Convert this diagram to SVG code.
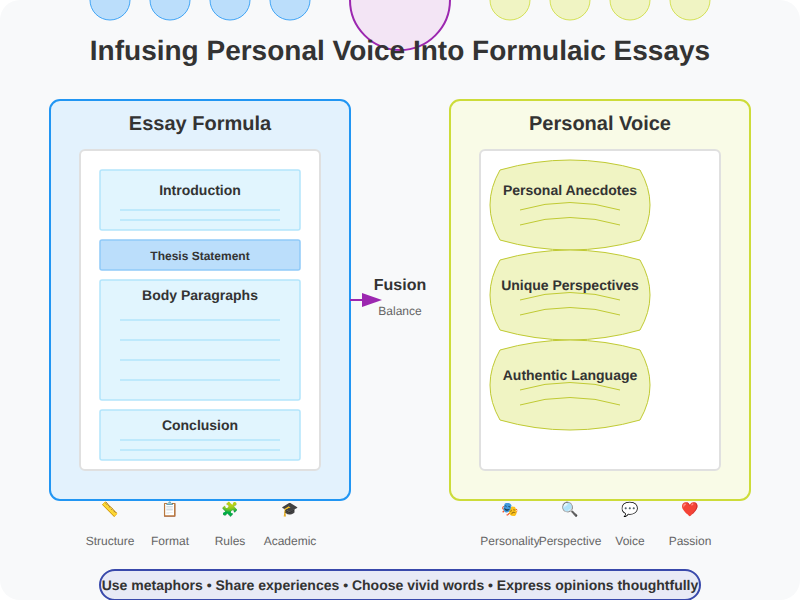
<svg xmlns="http://www.w3.org/2000/svg" width="800" height="600" viewBox="0 0 800 600">
<style>
text{font-family:"Liberation Sans",Arial,sans-serif;text-anchor:middle;fill:#333;text-rendering:geometricPrecision}
.b{font-weight:bold}
.sec{fill:#e1f5fe;stroke:#b3e5fc;stroke-width:1.5}
.ln{stroke:#b3e5fc;stroke-width:1.5;fill:none}
.inner{fill:#fff;stroke:#e0e0e0;stroke-width:2}
.blob{fill:#f0f4c3;stroke:#c0ca33;stroke-width:1}
.wave{fill:none;stroke:#c0ca33;stroke-width:1}
.cb{fill:#bbdefb;stroke:#42a5f5;stroke-width:1}
.cy{fill:#f0f4c3;stroke:#d4e157;stroke-width:1}
.lab{font-size:12px;fill:#666}
.ico{font-size:14px}
</style>
<defs>
<marker id="arr" markerWidth="10" markerHeight="7" refX="0" refY="3.5" orient="auto"><polygon points="0 0,10 3.5,0 7" fill="#9c27b0"/></marker>
</defs>
<rect width="800" height="600" fill="#fff"/>
<rect id="background" width="800" height="600" rx="20" fill="#f8f9fa"/>
<g id="top-circles">
<circle class="cb" cx="110" cy="0" r="20"/><circle class="cb" cx="170" cy="0" r="20"/><circle class="cb" cx="230" cy="0" r="20"/><circle class="cb" cx="290" cy="0" r="20"/>
<circle cx="400" cy="0" r="50" fill="#f3e5f5" stroke="#9c27b0" stroke-width="2"/>
<circle class="cy" cx="510" cy="0" r="20"/><circle class="cy" cx="570" cy="0" r="20"/><circle class="cy" cx="630" cy="0" r="20"/><circle class="cy" cx="690" cy="0" r="20"/>
</g>
<text id="title" class="b" x="400" y="60" font-size="28">Infusing Personal Voice Into Formulaic Essays</text>
<g id="essay-formula">
<rect x="50" y="100" width="300" height="400" rx="10" fill="#e3f2fd" stroke="#2196f3" stroke-width="2"/>
<text class="b" x="200" y="130" font-size="20">Essay Formula</text>
<rect class="inner" x="80" y="150" width="240" height="320" rx="5"/>
</g>
<g id="introduction">
<rect class="sec" x="100" y="170" width="200" height="60" rx="2"/>
<text class="b" x="200" y="195" font-size="14">Introduction</text>
<path class="ln" d="M120 210H280M120 220H280"/>
</g>
<g id="thesis-statement">
<rect x="100" y="240" width="200" height="30" rx="2" fill="#bbdefb" stroke="#90caf9" stroke-width="1.5"/>
<text class="b" x="200" y="260" font-size="12">Thesis Statement</text>
</g>
<g id="body-paragraphs">
<rect class="sec" x="100" y="280" width="200" height="120" rx="2"/>
<text class="b" x="200" y="300" font-size="14">Body Paragraphs</text>
<path class="ln" d="M120 320H280M120 340H280M120 360H280M120 380H280"/>
</g>
<g id="conclusion">
<rect class="sec" x="100" y="410" width="200" height="50" rx="2"/>
<text class="b" x="200" y="430" font-size="14">Conclusion</text>
<path class="ln" d="M120 440H280M120 450H280"/>
</g>
<g id="personal-voice">
<rect x="450" y="100" width="300" height="400" rx="10" fill="#f9fbe7" stroke="#cddc39" stroke-width="2"/>
<text class="b" x="600" y="130" font-size="20">Personal Voice</text>
<rect class="inner" x="480" y="150" width="240" height="320" rx="5"/>
</g>
<g id="personal-anecdotes">
<path class="blob" d="M500 170Q570 150 640 170Q660 205 640 240Q570 260 500 240Q480 205 500 170Z"/>
<text class="b" x="570" y="195" font-size="14">Personal Anecdotes</text>
<path class="wave" d="M520 210Q570 195 620 210M520 225Q570 210 620 225"/>
</g>
<g id="unique-perspectives">
<path class="blob" d="M500 260Q570 240 640 260Q660 295 640 330Q570 350 500 330Q480 295 500 260Z"/>
<text class="b" x="570" y="290" font-size="14">Unique Perspectives</text>
<path class="wave" d="M520 300Q570 285 620 300M520 315Q570 300 620 315"/>
</g>
<g id="authentic-language">
<path class="blob" d="M500 350Q570 330 640 350Q660 385 640 420Q570 440 500 420Q480 385 500 350Z"/>
<text class="b" x="570" y="380" font-size="14">Authentic Language</text>
<path class="wave" d="M520 390Q570 375 620 390M520 405Q570 390 620 405"/>
</g>
<g id="connectors">
<line x1="350" y1="300" x2="362" y2="300" stroke="#9c27b0" stroke-width="2" marker-end="url(#arr)"/>
</g>
<g id="fusion">
<text class="b" x="400" y="290" font-size="16">Fusion</text>
<text class="lab" x="400" y="315">Balance</text>
</g>
<g id="formula-icons">
<text class="ico" x="110" y="514">📏</text><text class="ico" x="170" y="514">📋</text><text class="ico" x="230" y="514">🧩</text><text class="ico" x="290" y="514">🎓</text>
<text class="lab" x="110" y="545">Structure</text><text class="lab" x="170" y="545">Format</text><text class="lab" x="230" y="545">Rules</text><text class="lab" x="290" y="545">Academic</text>
</g>
<g id="voice-icons">
<text class="ico" x="510" y="514">🎭</text><text class="ico" x="570" y="514">🔍</text><text class="ico" x="630" y="514">💬</text><text class="ico" x="690" y="514">❤️</text>
<text class="lab" x="510" y="545">Personality</text><text class="lab" x="570" y="545">Perspective</text><text class="lab" x="630" y="545">Voice</text><text class="lab" x="690" y="545">Passion</text>
</g>
<g id="tips">
<rect x="100" y="570" width="600" height="30" rx="15" fill="#e8eaf6" stroke="#3949ab" stroke-width="2"/>
<text class="b" x="400" y="590" font-size="14">Use metaphors • Share experiences • Choose vivid words • Express opinions thoughtfully</text>
</g>
</svg>
